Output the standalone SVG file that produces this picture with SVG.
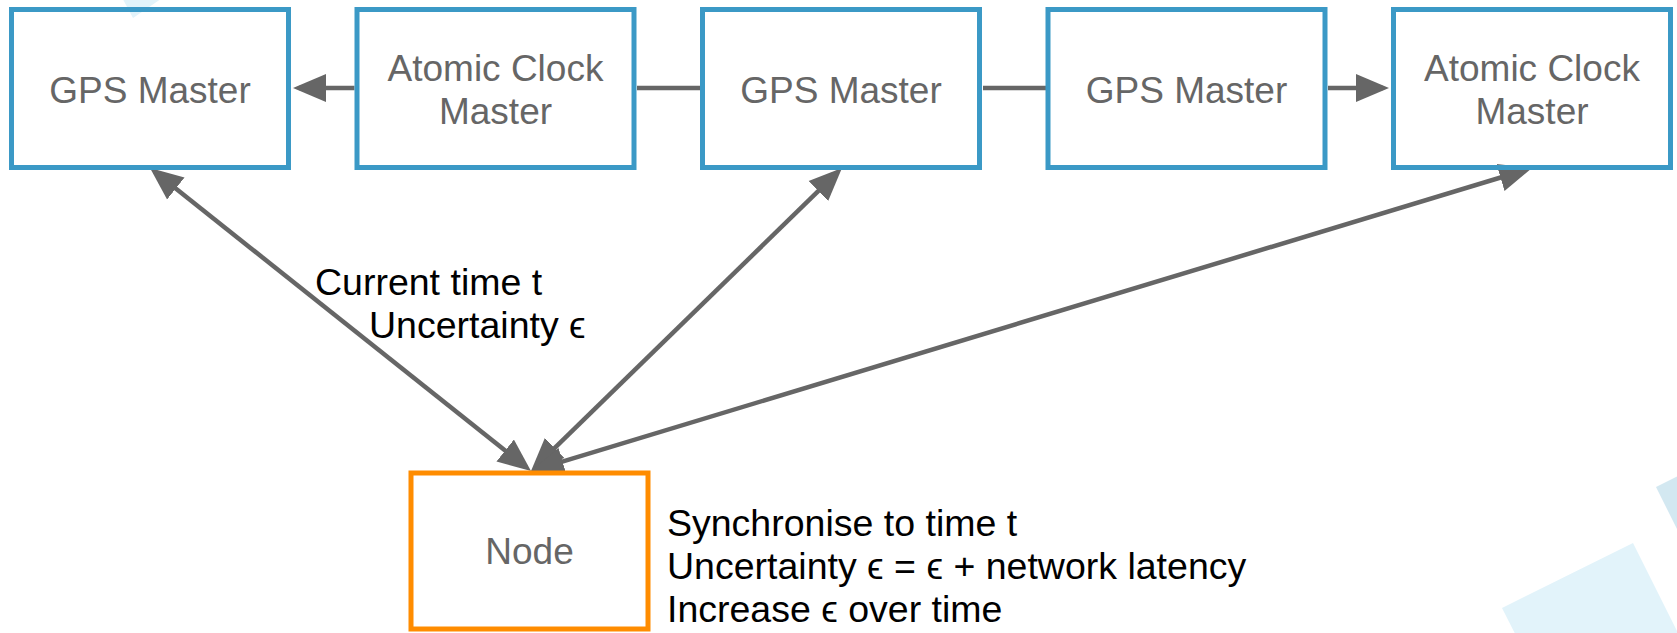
<svg xmlns="http://www.w3.org/2000/svg" width="1677" height="633" viewBox="0 0 1677 633">
<style>
.box{fill:none;stroke:#3b99c6;stroke-width:5}
.node{fill:#ffffff;stroke:#ff8c00;stroke-width:5}
.bt{font-family:"Liberation Sans",Arial,"DejaVu Sans",sans-serif;font-size:37px;fill:#666666;text-anchor:middle}
.lbl{font-family:"Liberation Sans",Arial,"DejaVu Sans",sans-serif;font-size:37.5px;fill:#000000}
.con{stroke:#666666;stroke-width:4.5;fill:none}
.deco1{fill:#e2f3fa}
.deco2{fill:#d3e8f1}
</style>
<defs>
<marker id="ah" markerUnits="userSpaceOnUse" markerWidth="34" markerHeight="30" viewBox="0 0 34 30" refX="27" refY="15" orient="auto-start-reverse">
<path d="M0,1 L33,15 L0,29 z" fill="#666666"/>
</marker>
</defs>
<g id="background">
<polygon class="deco1" points="118,-10 174,-10 133,18"/>
<polygon class="deco1" points="1502,608 1633,543 1700,677 1570,742"/>
<polygon class="deco2" points="1656,487 1720,455 1760,535 1696,567"/>
</g>
<g id="connectors">
<line class="con" x1="354.5" y1="88" x2="299" y2="88" marker-end="url(#ah)"/>
<line class="con" x1="637" y1="88" x2="700" y2="88"/>
<line class="con" x1="983" y1="88" x2="1046" y2="88"/>
<line class="con" x1="1328" y1="88" x2="1383" y2="88" marker-end="url(#ah)"/>
<line class="con" x1="154.7" y1="171.7" x2="526.3" y2="467.3" marker-start="url(#ah)" marker-end="url(#ah)"/>
<line class="con" x1="837.7" y1="172.2" x2="535.3" y2="466.8" marker-start="url(#ah)" marker-end="url(#ah)"/>
<line class="con" x1="1526.3" y1="169.7" x2="536.7" y2="469.3" marker-start="url(#ah)" marker-end="url(#ah)"/>
</g>
<g id="gps1">
<rect class="box" x="11.5" y="9.5" width="277" height="158"/>
<text class="bt" x="150" y="103">GPS Master</text>
</g>
<g id="atomic1">
<rect class="box" x="357" y="9.5" width="277" height="158"/>
<text class="bt" x="495.5" y="81">Atomic Clock</text>
<text class="bt" x="495.5" y="124">Master</text>
</g>
<g id="gps2">
<rect class="box" x="702.5" y="9.5" width="277" height="158"/>
<text class="bt" x="841" y="103">GPS Master</text>
</g>
<g id="gps3">
<rect class="box" x="1048" y="9.5" width="277" height="158"/>
<text class="bt" x="1186.5" y="103">GPS Master</text>
</g>
<g id="atomic2">
<rect class="box" x="1393.5" y="9.5" width="277" height="158"/>
<text class="bt" x="1532" y="81">Atomic Clock</text>
<text class="bt" x="1532" y="124">Master</text>
</g>
<g id="node">
<rect class="node" x="411" y="473" width="237" height="156"/>
<text class="bt" x="529.5" y="564">Node</text>
</g>
<g id="labels">
<text class="lbl" x="315" y="295">Current time t</text>
<text class="lbl" x="369" y="338">Uncertainty ϵ</text>
<text class="lbl" x="667" y="536">Synchronise to time t</text>
<text class="lbl" x="667" y="579">Uncertainty ϵ = ϵ + network latency</text>
<text class="lbl" x="667" y="622">Increase ϵ over time</text>
</g>
</svg>
